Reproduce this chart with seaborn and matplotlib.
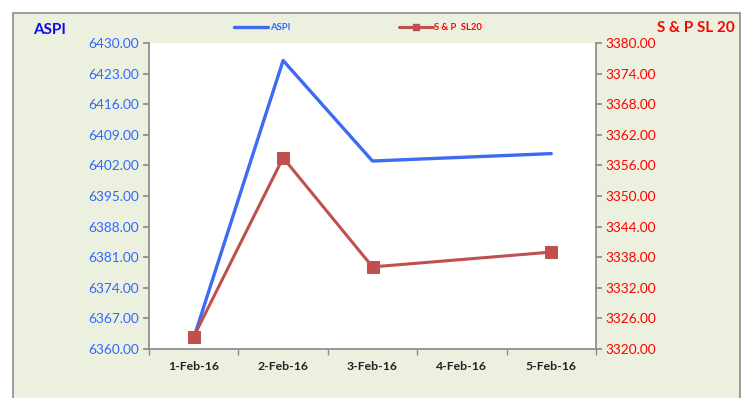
import numpy as np
import pandas as pd
import matplotlib
matplotlib.use("Agg")
import matplotlib.pyplot as plt
import seaborn as sns
from matplotlib.patches import Rectangle
from matplotlib.ticker import FixedLocator, NullFormatter

dates = ["1-Feb-16", "2-Feb-16", "3-Feb-16", "4-Feb-16", "5-Feb-16"]
aspi = [6362.5, 6426.0, 6403.0, np.nan, 6404.7]
snp = [3322.4, 3357.5, 3336.1, np.nan, 3339.0]
left_ticks = [6360, 6367, 6374, 6381, 6388, 6395, 6402, 6409, 6416, 6423, 6430]
right_ticks = [3320, 3326, 3332, 3338, 3344, 3350, 3356, 3362, 3368, 3374, 3380]

sns.set_theme(style="white")
plt.rcParams['font.family'] = ['Lato', 'DejaVu Sans']

BLUE = "#3366FF"
LBLUE = "#3D6BF2"
RED = "#C0504D"
TRED = "#FF0000"
BG = "#EBF1DE"

W, H = 743, 398
fig = plt.figure(figsize=(W / 100, H / 100), dpi=100)
fig.patch.set_facecolor("white")
fig.patches.append(Rectangle((13 / W, -0.05), (740 - 13) / W, 1.05 - 13 / H,
                             transform=fig.transFigure, facecolor=BG,
                             edgecolor="#8C8C8C", linewidth=1.2, zorder=-5))

ax = fig.add_axes([149 / W, 1 - 349 / H, (596 - 149) / W, (349 - 43) / H])
ax.set_facecolor("white")
ax2 = ax.twinx()

df = pd.DataFrame({"x": np.arange(len(dates)), "ASPI": aspi, "SNP": snp})
d1 = df.dropna(subset=["ASPI"])
d2 = df.dropna(subset=["SNP"])

sns.lineplot(data=d1, x="x", y="ASPI", ax=ax, color=LBLUE, linewidth=2.4, zorder=3)
sns.lineplot(data=d2, x="x", y="SNP", ax=ax2, color=RED, linewidth=2.2,
             marker="s", markersize=9, markeredgecolor=RED, zorder=4)

ax.set_xlim(-0.5, len(dates) - 0.5)
ax.set_ylim(6360, 6430)
ax2.set_ylim(3320, 3380)
ax.set_yticks(left_ticks)
ax.set_yticklabels([f"{v:.2f}" for v in left_ticks], color=BLUE, fontsize=9.8)
ax2.set_yticks(right_ticks)
ax2.set_yticklabels([f"{v:.2f}" for v in right_ticks], color=TRED, fontsize=9.8)
ax.set_xticks(np.arange(len(dates)))
ax.set_xticklabels(dates, fontsize=8.8, fontweight="bold", color="#222222")
ax.xaxis.set_minor_locator(FixedLocator(np.arange(-0.5, len(dates), 1.0)))
ax.xaxis.set_minor_formatter(NullFormatter())
ax.tick_params(axis="x", which="major", length=0, pad=9)
ax.tick_params(axis="x", which="minor", length=4, color="#8C8C8C", direction="out", bottom=True)
ax.tick_params(axis="y", length=4, color="#8C8C8C", direction="out", left=True, pad=3)
ax2.tick_params(axis="y", length=4, color="#8C8C8C", direction="out", right=True, pad=3)
ax.set_xlabel("")
ax.set_ylabel("")
ax2.set_ylabel("")
for a in (ax, ax2):
    for s in a.spines.values():
        s.set_visible(False)
for side in ("left", "bottom"):
    ax.spines[side].set_visible(True)
    ax.spines[side].set_color("#8C8C8C")
ax2.spines["right"].set_visible(True)
ax2.spines["right"].set_color("#8C8C8C")

fig.text(33 / W, 1 - 30 / H, "ASPI", color="#0A0AEE", fontsize=11, fontweight="bold", va="center", ha="left")
fig.text(735 / W, 1 - 28 / H, "S & P SL 20", color=TRED, fontsize=11, fontweight="bold", va="center", ha="right")

h1 = plt.Line2D([], [], color=LBLUE, linewidth=2.4)
h2 = plt.Line2D([], [], color=RED, linewidth=2.2, marker="s", markersize=4)
leg = fig.legend([h1, h2], ["ASPI", "S & P  SL20"], loc="center",
                 bbox_to_anchor=(358 / W, 1 - 28 / H), ncol=2, frameon=False,
                 fontsize=6.8, handlelength=3.6, columnspacing=11.5, handletextpad=0.15)
for t, c in zip(leg.get_texts(), [BLUE, TRED]):
    t.set_color(c)
    t.set_fontweight("bold")

fig.savefig("out.png", dpi=100)
